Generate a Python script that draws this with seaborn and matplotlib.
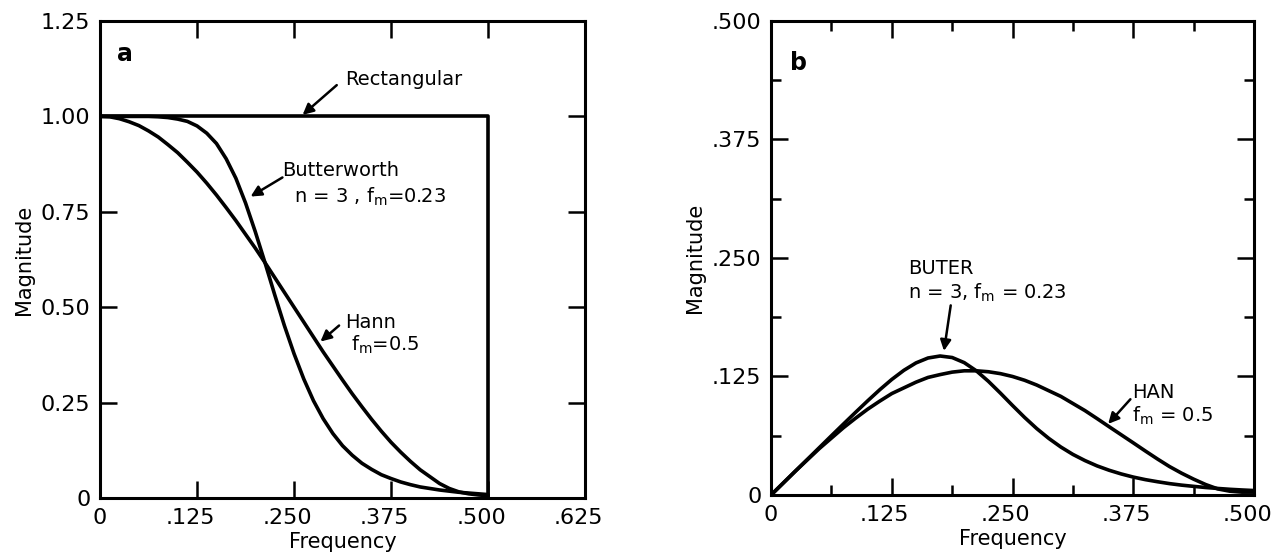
import matplotlib
matplotlib.use("Agg")
import matplotlib.pyplot as plt
from matplotlib.ticker import MultipleLocator
from matplotlib.transforms import ScaledTranslation
import seaborn as sns
import pandas as pd

# frequency grid shared by all curves
freq = [0.0, 0.0125, 0.025, 0.0375, 0.05, 0.0625, 0.075, 0.0875, 0.1, 0.1125,
        0.125, 0.1375, 0.15, 0.1625, 0.175, 0.1875, 0.2, 0.2125, 0.225, 0.2375,
        0.25, 0.2625, 0.275, 0.2875, 0.3, 0.3125, 0.325, 0.3375, 0.35, 0.3625,
        0.375, 0.3875, 0.4, 0.4125, 0.425, 0.4375, 0.45, 0.4625, 0.475, 0.4875, 0.5]

# panel a: filter magnitude
hann_a = [1.0, 0.999, 0.994, 0.986, 0.976, 0.962, 0.946, 0.926, 0.905, 0.880,
          0.854, 0.825, 0.794, 0.761, 0.727, 0.691, 0.655, 0.617, 0.578, 0.539,
          0.500, 0.461, 0.422, 0.383, 0.346, 0.309, 0.273, 0.239, 0.206, 0.175,
          0.146, 0.120, 0.096, 0.074, 0.056, 0.038, 0.025, 0.016, 0.011, 0.008, 0.006]
butter_a = [1.0, 1.0, 1.0, 1.0, 1.0, 1.0, 0.999, 0.997, 0.993, 0.987,
            0.975, 0.956, 0.929, 0.889, 0.838, 0.773, 0.698, 0.617, 0.533, 0.452,
            0.378, 0.312, 0.255, 0.208, 0.169, 0.137, 0.112, 0.091, 0.075, 0.061,
            0.051, 0.042, 0.035, 0.029, 0.025, 0.021, 0.018, 0.015, 0.013, 0.011, 0.009]
rect_freq = [0.0, 0.5, 0.5]
rect_mag = [1.0, 1.0, 0.0]

# panel b: frequency-weighted magnitude
hann_b = [0.0, 0.0125, 0.025, 0.037, 0.049, 0.060, 0.071, 0.081, 0.0905, 0.099,
          0.107, 0.113, 0.119, 0.124, 0.127, 0.1296, 0.131, 0.131, 0.130, 0.128,
          0.125, 0.121, 0.116, 0.110, 0.104, 0.0965, 0.089, 0.0806, 0.072, 0.0635,
          0.055, 0.0464, 0.038, 0.030, 0.023, 0.0167, 0.011, 0.0064, 0.004, 0.003, 0.003]
butter_b = [0.0, 0.0125, 0.025, 0.0375, 0.050, 0.0625, 0.0749, 0.0872, 0.0993, 0.111,
            0.1219, 0.1315, 0.1393, 0.1445, 0.1466, 0.1450, 0.1396, 0.131, 0.1199, 0.1074,
            0.0944, 0.0818, 0.0701, 0.0597, 0.0506, 0.0428, 0.0363, 0.0307, 0.0261, 0.0222,
            0.0189, 0.0162, 0.014, 0.012, 0.0104, 0.0091, 0.0079, 0.0069, 0.006, 0.0053, 0.0047]

sns.set_theme(style="ticks")
plt.rcParams["font.family"] = ["DejaVu Sans"]
plt.rcParams["mathtext.default"] = "regular"
for k in ["text.color", "axes.labelcolor", "xtick.color", "ytick.color", "axes.edgecolor"]:
    plt.rcParams[k] = "black"

fig = plt.figure(figsize=(12.73, 5.59), dpi=100)
ax1 = fig.add_axes([0.0786, 0.1091, 0.381, 0.8533])
ax2 = fig.add_axes([0.6057, 0.1145, 0.3794, 0.848])

df = pd.DataFrame({"Frequency": freq, "Hann": hann_a, "Butterworth": butter_a,
                   "HAN": hann_b, "BUTER": butter_b})
df_rect = pd.DataFrame({"Frequency": rect_freq, "Magnitude": rect_mag})

lw = 2.6
sns.lineplot(data=df_rect, x="Frequency", y="Magnitude", ax=ax1, color="black", lw=lw,
             estimator=None, sort=False)
for col in ["Hann", "Butterworth"]:
    sns.lineplot(data=df, x="Frequency", y=col, ax=ax1, color="black", lw=lw,
                 estimator=None, sort=False)
for col in ["HAN", "BUTER"]:
    sns.lineplot(data=df, x="Frequency", y=col, ax=ax2, color="black", lw=lw,
                 estimator=None, sort=False)

arrow = dict(arrowstyle="-|>", color="black", lw=1.8, mutation_scale=16,
             shrinkA=0, shrinkB=0)

# panel a labels
ax1.text(0.022, 1.164, "a", fontsize=17, fontweight="bold", va="center")
ax1.text(0.316, 1.098, "Rectangular", fontsize=14, va="center")
ax1.annotate("", xy=(0.261, 1.004), xytext=(0.305, 1.082), arrowprops=arrow)
ax1.text(0.235, 0.857, "Butterworth", fontsize=14, va="center")
ax1.text(0.250, 0.790, "n = 3 , f$_m$=0.23", fontsize=14, va="center")
ax1.annotate("", xy=(0.194, 0.790), xytext=(0.235, 0.84), arrowprops=arrow)
ax1.text(0.316, 0.461, "Hann", fontsize=14, va="center")
ax1.text(0.324, 0.402, "f$_m$=0.5", fontsize=14, va="center")
ax1.annotate("", xy=(0.284, 0.410), xytext=(0.308, 0.452), arrowprops=arrow)

# panel b labels
ax2.text(0.020, 0.4556, "b", fontsize=17, fontweight="bold", va="center")
ax2.text(0.142, 0.239, "BUTER", fontsize=14, va="center")
ax2.text(0.142, 0.213, "n = 3, f$_m$ = 0.23", fontsize=14, va="center")
ax2.annotate("", xy=(0.179, 0.152), xytext=(0.186, 0.200), arrowprops=arrow)
ax2.text(0.374, 0.108, "HAN", fontsize=14, va="center")
ax2.text(0.374, 0.083, "f$_m$ = 0.5", fontsize=14, va="center")
ax2.annotate("", xy=(0.349, 0.075), xytext=(0.372, 0.101), arrowprops=arrow)

ax1.set_xlim(0, 0.625)
ax1.set_ylim(0, 1.25)
ax1.set_xticks([0, 0.125, 0.25, 0.375, 0.5, 0.625])
ax1.set_xticklabels(["0", ".125", ".250", ".375", ".500", ".625"])
ax1.set_yticks([0, 0.25, 0.5, 0.75, 1.0, 1.25])
ax1.set_yticklabels(["0", "0.25", "0.50", "0.75", "1.00", "1.25"])

ax2.set_xlim(0, 0.5)
ax2.set_ylim(0, 0.5)
ax2.set_xticks([0, 0.125, 0.25, 0.375, 0.5])
ax2.set_xticklabels(["0", ".125", ".250", ".375", ".500"])
ax2.set_yticks([0, 0.125, 0.25, 0.375, 0.5])
ax2.set_yticklabels(["0", ".125", ".250", ".375", ".500"])
ax2.xaxis.set_minor_locator(MultipleLocator(0.0625))
ax2.yaxis.set_minor_locator(MultipleLocator(0.0625))

shift = ScaledTranslation(-0.07, 0, fig.dpi_scale_trans)
for ax in (ax1, ax2):
    ax.set_xlabel("Frequency", fontsize=15, labelpad=3)
    ax.set_ylabel("Magnitude", fontsize=15, labelpad=5)
    ax.tick_params(which="major", direction="in", length=12, width=1.8,
                   top=True, right=True, labelsize=16, pad=7)
    ax.tick_params(which="minor", direction="in", length=7, width=1.8,
                   top=True, right=True)
    for lab in ax.get_xticklabels()[1:]:
        lab.set_transform(lab.get_transform() + shift)
    for s in ax.spines.values():
        s.set_visible(True)
        s.set_linewidth(2.2)
        s.set_color("black")

plt.savefig("out.png", dpi=100)
